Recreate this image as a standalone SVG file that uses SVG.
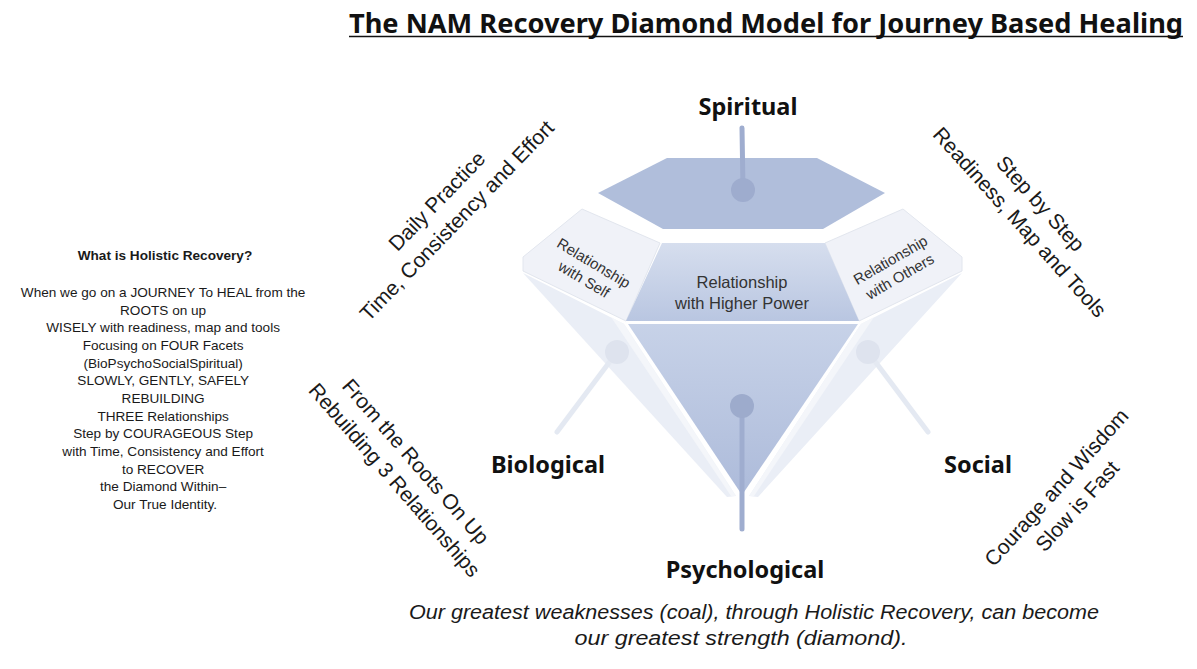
<svg xmlns="http://www.w3.org/2000/svg" width="1197" height="669" viewBox="0 0 1197 669">
<style>
.t{font-family:"Liberation Sans",Arial,sans-serif;fill:#1a1a1a}
.h{font-family:"Noto Sans","Open Sans",sans-serif;font-weight:bold;fill:#111}
.rot{font-family:"Liberation Sans",Arial,sans-serif;font-size:21px;fill:#1a1a1a;text-anchor:middle}
.lbl{font-family:"Liberation Sans",Arial,sans-serif;fill:#333;text-anchor:middle}
.facet{fill:#f0f2f8;stroke:#e2e6ee;stroke-width:1}
.pav{fill:#eaeef6}
.strip{fill:#f4f6fa}
.stem{stroke:#9fadcf;stroke-width:5;stroke-linecap:round}
.wstem{stroke:#e4e9f2;stroke-width:5;stroke-linecap:round}
</style>
<defs>
<linearGradient id="gTrap" x1="0" y1="0" x2="0" y2="1">
<stop offset="0" stop-color="#d6deee"/>
<stop offset="1" stop-color="#b9c6e1"/>
</linearGradient>
<linearGradient id="gTri" x1="0" y1="0" x2="0" y2="1">
<stop offset="0" stop-color="#c7d2e8"/>
<stop offset="1" stop-color="#adbbda"/>
</linearGradient>
<g id="wing">
<polygon class="pav" points="523,273 624,324 736,496 727,497"/>
<polygon class="strip" points="611,317 624,324 736,496 731,496"/>
<polygon class="facet" points="582,209 660,243 626,321 523,271 523,257"/>
<line class="wstem" x1="617" y1="352" x2="557" y2="432"/>
<circle cx="617" cy="352" r="12" fill="#dee3ee"/>
</g>
</defs>

<rect width="1197" height="669" fill="#ffffff"/>

<g id="title">
<text class="h" x="766" y="33" font-size="26" text-anchor="middle" textLength="834" lengthAdjust="spacingAndGlyphs">The NAM Recovery Diamond Model for Journey Based Healing</text>
<line x1="349" y1="36.5" x2="1183" y2="36.5" stroke="#111" stroke-width="1.6"/>
</g>

<g id="diamond">
<g id="wing-self"><use href="#wing"/></g>
<g id="wing-others"><use href="#wing" transform="translate(1485,0) scale(-1,1)"/></g>
<g id="crown-spiritual">
<polygon points="667,158 817,158 885,193 823,229 663,229 598,193" fill="#b0bedb"/>
</g>
<g id="table-higher-power">
<polygon points="662,243 825,243 859,321 626,321" fill="url(#gTrap)"/>
</g>
<g id="pavilion-psychological">
<polygon points="628,324 858,324 742,495" fill="url(#gTri)"/>
</g>
</g>

<g id="connectors">
<line class="stem" x1="742" y1="128" x2="743" y2="190"/>
<circle cx="743" cy="190" r="12" fill="#9eacce"/>
<line class="stem" x1="742" y1="406" x2="742" y2="529"/>
<circle cx="742" cy="406" r="12" fill="#9dabcc"/>
</g>

<g id="label-spiritual"><text class="h" x="748" y="115" font-size="23.5" text-anchor="middle">Spiritual</text></g>
<g id="label-biological"><text class="h" x="548" y="473" font-size="23.5" text-anchor="middle">Biological</text></g>
<g id="label-social"><text class="h" x="978" y="473" font-size="23.5" text-anchor="middle">Social</text></g>
<g id="label-psychological"><text class="h" x="745" y="578" font-size="23.5" text-anchor="middle">Psychological</text></g>

<g id="label-higher-power">
<text class="lbl" font-size="16.5" x="742" y="288">Relationship</text>
<text class="lbl" font-size="16.5" x="742" y="309">with Higher Power</text>
</g>
<g id="label-self" transform="translate(589,271) rotate(31)">
<text class="lbl" font-size="15" x="0" y="-4">Relationship</text>
<text class="lbl" font-size="15" x="0" y="15">with Self</text>
</g>
<g id="label-others" transform="translate(895,268) rotate(-30)">
<text class="lbl" font-size="15" x="0" y="-4">Relationship</text>
<text class="lbl" font-size="15" x="0" y="15">with Others</text>
</g>

<g id="note-top-left" transform="translate(447,211) rotate(-46)">
<text class="rot" x="0" y="-7">Daily Practice</text>
<text class="rot" x="0" y="21">Time, Consistency and Effort</text>
</g>
<g id="note-top-right" transform="translate(1030,213) rotate(48)">
<text class="rot" x="0" y="-7">Step by Step</text>
<text class="rot" x="0" y="21">Readiness, Map and Tools</text>
</g>
<g id="note-bottom-left" transform="translate(405,471) rotate(49)">
<text class="rot" x="0" y="-7">From the Roots On Up</text>
<text class="rot" x="0" y="21">Rebuilding 3 Relationships</text>
</g>
<g id="note-bottom-right" transform="translate(1067,497) rotate(-48)">
<text class="rot" x="0" y="-7">Courage and Wisdom</text>
<text class="rot" x="0" y="21">Slow is Fast</text>
</g>

<g id="holistic-recovery" text-anchor="middle">
<text class="t" x="165" y="259.5" font-size="13.6" font-weight="bold">What is Holistic Recovery?</text>
<text class="t" font-size="13.6">
<tspan x="165" y="297">When we go on a JOURNEY To HEAL from the</tspan>
<tspan x="165" y="314.7">ROOTS on up</tspan>
<tspan x="165" y="332.3">WISELY with readiness, map and tools</tspan>
<tspan x="165" y="350">Focusing on FOUR Facets</tspan>
<tspan x="165" y="367.7">(BioPsychoSocialSpiritual)</tspan>
<tspan x="165" y="385.3">SLOWLY, GENTLY, SAFELY</tspan>
<tspan x="165" y="403">REBUILDING</tspan>
<tspan x="165" y="420.7">THREE Relationships</tspan>
<tspan x="165" y="438.3">Step by COURAGEOUS Step</tspan>
<tspan x="165" y="456">with Time, Consistency and Effort</tspan>
<tspan x="165" y="473.7">to RECOVER</tspan>
<tspan x="165" y="491.3">the Diamond Within–</tspan>
<tspan x="165" y="509">Our True Identity.</tspan>
</text>
</g>

<g id="caption" text-anchor="middle">
<text class="t" x="754" y="619" font-size="20" font-style="italic" textLength="690" lengthAdjust="spacingAndGlyphs">Our greatest weaknesses (coal), through Holistic Recovery, can become</text>
<text class="t" x="741" y="645" font-size="20" font-style="italic" textLength="333" lengthAdjust="spacingAndGlyphs">our greatest strength (diamond).</text>
</g>
</svg>
